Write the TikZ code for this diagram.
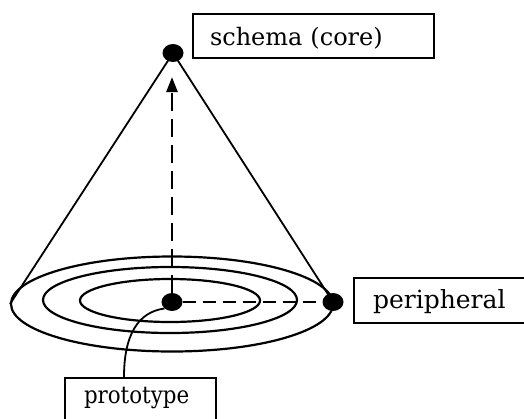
\documentclass[tikz,border=0pt]{standalone}
\usepackage{fontspec}
\setmainfont{DejaVu Serif}
\usetikzlibrary{arrows.meta,shapes.geometric}

\tikzset{
  labelbox/.style={draw, line width=2pt, rectangle, align=left, inner ysep=0pt, anchor=north west},
  dot/.style={ellipse, fill=black, draw=none, inner sep=0pt, minimum width=21pt, minimum height=18pt},
  ring/.style={line width=2.2pt},
  coneline/.style={line width=1.8pt},
  dashline/.style={line width=2.4pt, dash pattern=on 13pt off 7pt},
}

\begin{document}
\begin{tikzpicture}[x=1pt, y=-1pt]
  \useasboundingbox (0,0) rectangle (524,418);

  % concentric rings of the base
  \draw[ring] (172,304) ellipse [x radius=161pt, y radius=47.5pt];
  \draw[ring] (170,300) ellipse [x radius=127pt, y radius=33pt];
  \draw[ring] (170,300.5) ellipse [x radius=90pt, y radius=21.5pt];

  % points of the cone
  \node[dot] (apex) at (173,53) {};
  \node[dot] (cdot) at (172,302) {};
  \node[dot] (pdot) at (333,302) {};
  \coordinate (lrim) at (10,304);

  % cone sides
  \draw[coneline] (apex.center) -- (lrim);
  \draw[coneline] (apex.center) -- (pdot.center);

  % dashed links from the centre
  \coordinate (tip) at (172,77);
  \draw[line width=2.6pt, dash pattern=on 18pt off 8pt, -{Triangle[length=15pt,width=11pt]}] (cdot.north) -- (tip);
  \draw[dashline] (cdot.east) -- (pdot.west);

  % labels
  \node[labelbox, minimum width=241pt, minimum height=44pt, inner xsep=17pt, text width=207pt,
        text height=31pt, text depth=13pt, font=\fontsize{24}{30}\selectfont]
        (schema) at (192,13) {schema (core)};
  \node[labelbox, minimum width=190pt, minimum height=45pt, inner xsep=19pt, text width=152pt,
        text height=30pt, text depth=15pt, font=\fontsize{25}{30}\selectfont]
        (periph) at (353,277) {peripheral};
  \node[labelbox, minimum width=151pt, minimum height=55pt, inner xsep=19pt, text width=113pt,
        text height=25pt, text depth=30pt, font=\fontsize{24}{30}\selectfont]
        (proto) at (64,377) {\scalebox{0.89}[1]{prototype}};

  % leader from the prototype label to the centre point
  \coordinate (ptop) at ([xshift=60pt]proto.north west);
  \draw[line width=1.8pt] (cdot.south west) .. controls (138,312) and (124,335) .. (ptop);
\end{tikzpicture}
\end{document}
